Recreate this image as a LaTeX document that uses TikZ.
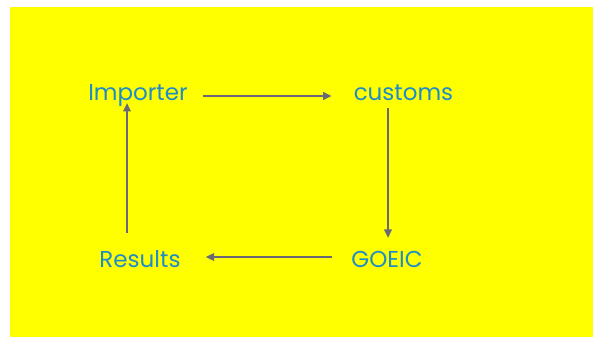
\documentclass[tikz,border=0pt]{standalone}
\usepackage{fontspec}
\setmainfont{Poppins}
\usetikzlibrary{arrows.meta, positioning}
\definecolor{bgyellow}{RGB}{255,255,0}
\definecolor{txtblue}{RGB}{30,140,200}
\definecolor{arrgray}{RGB}{105,105,118}
\tikzset{%
  >={Triangle[width=7.5pt,length=8.5pt]},
  % Specifications for style of nodes:
	label/.style = {inner sep=0pt, anchor=base, text=txtblue, font=\fontsize{23}{27}\selectfont},
	flow/.style = {->, draw=arrgray, line width=2.2pt},
}
\begin{document}
\begin{tikzpicture}[x=1pt, y=1pt]
  \useasboundingbox (0,0) rectangle (593,337);
  \fill[bgyellow] (10,0) rectangle (593,330);
  % Specification of nodes (position, etc.)
  \node (importer) [label] at (138,236)   {Importer};
  \node (customs)  [label] at (403.5,236) {customs};
  \node (goeic)    [label] at (387,70)    {GOEIC};
  \node (results)  [label] at (140,70)    {Results};

  \draw [flow] ([xshift=15pt, yshift=5pt]importer.base east) -- ([xshift=-22pt, yshift=5pt]customs.base west);
  \draw [flow] ([xshift=1pt, yshift=-7pt]customs.base -| goeic.base) -- ([xshift=1pt, yshift=29pt]goeic.base);
  \draw [flow] ([xshift=-19pt, yshift=10pt]goeic.base west) -- ([xshift=25pt, yshift=10pt]results.base east);
  \draw [flow] ([xshift=-13pt, yshift=34pt]results.base) -- ([xshift=-11pt, yshift=-2pt]importer.base);
\end{tikzpicture}
\end{document}
